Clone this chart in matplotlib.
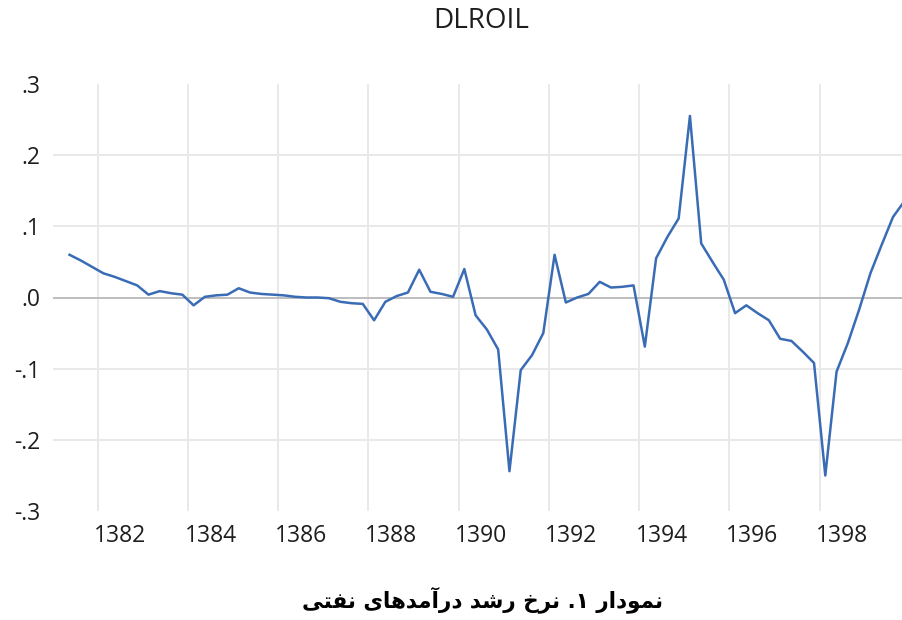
import matplotlib
matplotlib.use("Agg")
import matplotlib.pyplot as plt

# ---------------- data ----------------
title = "DLROIL"
caption = "نمودار ۱. نرخ رشد درآمدهای نفتی"
first_year = 1381
first_quarter = 2          # series starts 1381Q2
values = [
    0.060, 0.052, 0.043, 0.034, 0.029, 0.023, 0.017, 0.004, 0.009, 0.006,
    0.004, -0.011, 0.001, 0.003, 0.004, 0.013, 0.007, 0.005, 0.004, 0.003,
    0.001, 0.000, 0.000, -0.001, -0.006, -0.008, -0.009, -0.032, -0.006, 0.002,
    0.007, 0.039, 0.008, 0.005, 0.001, 0.040, -0.025, -0.045, -0.073, -0.244,
    -0.102, -0.081, -0.050, 0.060, -0.007, 0.000, 0.005, 0.022, 0.014, 0.015,
    0.017, -0.069, 0.055, 0.085, 0.111, 0.255, 0.076, 0.050, 0.025, -0.022,
    -0.011, -0.022, -0.032, -0.058, -0.061, -0.076, -0.092, -0.250, -0.104, -0.064,
    -0.017, 0.034, 0.074, 0.113, 0.135,
]
x_tick_years = [1382, 1384, 1386, 1388, 1390, 1392, 1394, 1396, 1398]
y_ticks = [-0.3, -0.2, -0.1, 0.0, 0.1, 0.2, 0.3]
y_labels = ["-.3", "-.2", "-.1", ".0", ".1", ".2", ".3"]

# ---------------- minimal Persian shaping ----------------
FORMS = {  # isolated, final, initial, medial
    "ا": (0xFE8D, 0xFE8E, None, None),
    "آ": (0xFE81, 0xFE82, None, None),
    "ت": (0xFE95, 0xFE96, 0xFE97, 0xFE98),
    "خ": (0xFEA5, 0xFEA6, 0xFEA7, 0xFEA8),
    "د": (0xFEA9, 0xFEAA, None, None),
    "ر": (0xFEAD, 0xFEAE, None, None),
    "ش": (0xFEB5, 0xFEB6, 0xFEB7, 0xFEB8),
    "ف": (0xFED1, 0xFED2, 0xFED3, 0xFED4),
    "م": (0xFEE1, 0xFEE2, 0xFEE3, 0xFEE4),
    "ن": (0xFEE5, 0xFEE6, 0xFEE7, 0xFEE8),
    "ه": (0xFEE9, 0xFEEA, 0xFEEB, 0xFEEC),
    "و": (0xFEED, 0xFEEE, None, None),
    "ی": (0xFEEF, 0xFEF0, 0xFEF3, 0xFEF4),
}


def shape_rtl(text):
    out = []
    n = len(text)
    for i, ch in enumerate(text):
        if ch not in FORMS:
            out.append(ch)
            continue
        f = FORMS[ch]
        prev = text[i - 1] if i > 0 else None
        nxt = text[i + 1] if i + 1 < n else None
        join_prev = prev in FORMS and FORMS[prev][2] is not None
        join_next = f[2] is not None and nxt in FORMS
        if join_prev and join_next:
            code = f[3]
        elif join_prev:
            code = f[1]
        elif join_next:
            code = f[2]
        else:
            code = f[0]
        out.append(chr(code))
    return "".join(out[::-1])


# ---------------- figure ----------------
W, H, DPI = 902, 620, 100
fig = plt.figure(figsize=(W / DPI, H / DPI), dpi=DPI)
fig.patch.set_facecolor("white")

x_left_px, x_right_px = 52.6, 909.9
y_top_px, y_bot_px = 83.9, 511.1
ax = fig.add_axes([x_left_px / W, (H - y_bot_px) / H,
                   (x_right_px - x_left_px) / W, (y_bot_px - y_top_px) / H])

t = [first_year + (first_quarter - 1 + k) * 0.25 + 0.125 for k in range(len(values))]

# grid
for yv in y_ticks[1:-1]:
    if yv == 0:
        ax.axhline(0, color="#bdbdbd", lw=1.4, zorder=1)
    else:
        ax.axhline(yv, color="#e9e9e9", lw=1.4, zorder=0)
for xv in x_tick_years:
    ax.axvline(xv, color="#e9e9e9", lw=1.4, zorder=0)

ax.plot(t, values, color="#3a6cb6", lw=1.8, zorder=3)

ax.set_xlim(1381, 1400)
ax.set_ylim(-0.3, 0.3)
for s in ax.spines.values():
    s.set_visible(False)

tick_font = dict(family="Open Sans", size=16.5, color="#1e1e1e")
ax.set_xticks([y + 0.5 for y in x_tick_years])
ax.set_xticklabels([str(y) for y in x_tick_years], fontdict=tick_font)
ax.set_yticks(y_ticks)
ax.set_yticklabels(y_labels, fontdict=tick_font)
ax.tick_params(axis="both", length=0)
ax.tick_params(axis="x", pad=9)
ax.tick_params(axis="y", pad=9)

fig.text(481 / W, 1 - 21 / H, title, ha="center", va="center",
         family="Open Sans", size=20, color="#1e1e1e")
fig.text(482 / W, 1 - 600 / H, shape_rtl(caption), ha="center", va="center",
         family=["DejaVu Sans"], weight="bold", size=15.5, color="black")

fig.savefig("out.png", dpi=DPI, facecolor="white")
